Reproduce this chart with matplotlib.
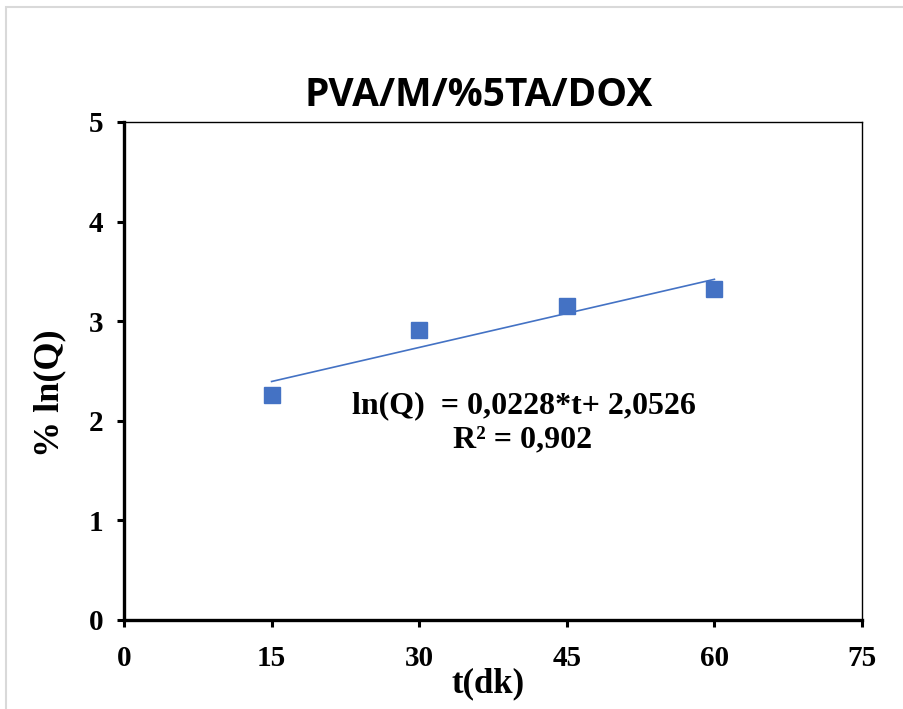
import matplotlib
matplotlib.use("Agg")
import matplotlib.pyplot as plt
from matplotlib.patches import Rectangle
import numpy as np

# Release data
t_min = [15, 30, 45, 60]
ln_q = [2.26, 2.91, 3.15, 3.32]

# Linear trend coefficients (ln(Q) = slope * t + intercept)
slope = 0.0228
intercept = 2.0526
r_squared = 0.902

x_ticks = [0, 15, 30, 45, 60, 75]
y_ticks = [0, 1, 2, 3, 4, 5]

W, H = 904, 709
fig = plt.figure(figsize=(W / 100, H / 100), dpi=100)
fig.patch.set_facecolor("white")

# light frame around the chart area
fig.add_artist(Rectangle((6.5 / W, -0.1), 1.2, 1.1 - 6.5 / H, transform=fig.transFigure,
                         fill=False, edgecolor="#d9d9d9", linewidth=1.5))

ax = fig.add_axes([124 / W, 1 - 620 / H, (862 - 124) / W, (620 - 122) / H])

blue = "#4472C4"
ax.plot(t_min, ln_q, linestyle="none", marker="s", markersize=11.5,
        color=blue, markeredgecolor=blue, zorder=3)

t_line = np.array([t_min[0], t_min[-1]])
ax.plot(t_line, slope * t_line + intercept, color=blue, linewidth=1.2, zorder=2)

ax.set_xlim(0, 75)
ax.set_ylim(0, 5)
ax.set_xticks(x_ticks)
ax.set_yticks(y_ticks)

tick_font = dict(family="Liberation Serif", weight="bold", size=21)
ax.set_xticklabels([str(v) for v in x_ticks], **tick_font)
ax.set_yticklabels([str(v) for v in y_ticks], **tick_font)
ax.tick_params(axis="both", direction="out", length=5, width=2.2, color="black")
ax.tick_params(axis="x", pad=13)
ax.tick_params(axis="y", pad=10)

for side in ("left", "bottom"):
    ax.spines[side].set_linewidth(2.4)
for side in ("top", "right"):
    ax.spines[side].set_linewidth(1.0)

fig.text(479 / W, 1 - 95 / H, "PVA/M/%5TA/DOX", ha="center", va="center",
         family="Open Sans", weight="bold", fontsize=28)

fig.text(488 / W, 1 - 684 / H, "t(dk)", ha="center", va="center",
         family="Liberation Serif", weight="bold", fontsize=25)
fig.text(50 / W, 1 - 393 / H, "% ln(Q)", ha="center", va="center", rotation=90,
         family="Liberation Serif", weight="bold", fontsize=26)

eq_font = dict(family="Liberation Serif", weight="bold", fontsize=23)
fig.text(524 / W, 1 - 406 / H, f"ln(Q)  = {slope:.4f}*t+ {intercept:.4f}".replace(".", ","),
         ha="center", va="center", **eq_font)
fig.text(523 / W, 1 - 440 / H, f"R² = {r_squared:.3f}".replace(".", ","),
         ha="center", va="center", **eq_font)

fig.savefig("out.png", dpi=100, facecolor="white")
